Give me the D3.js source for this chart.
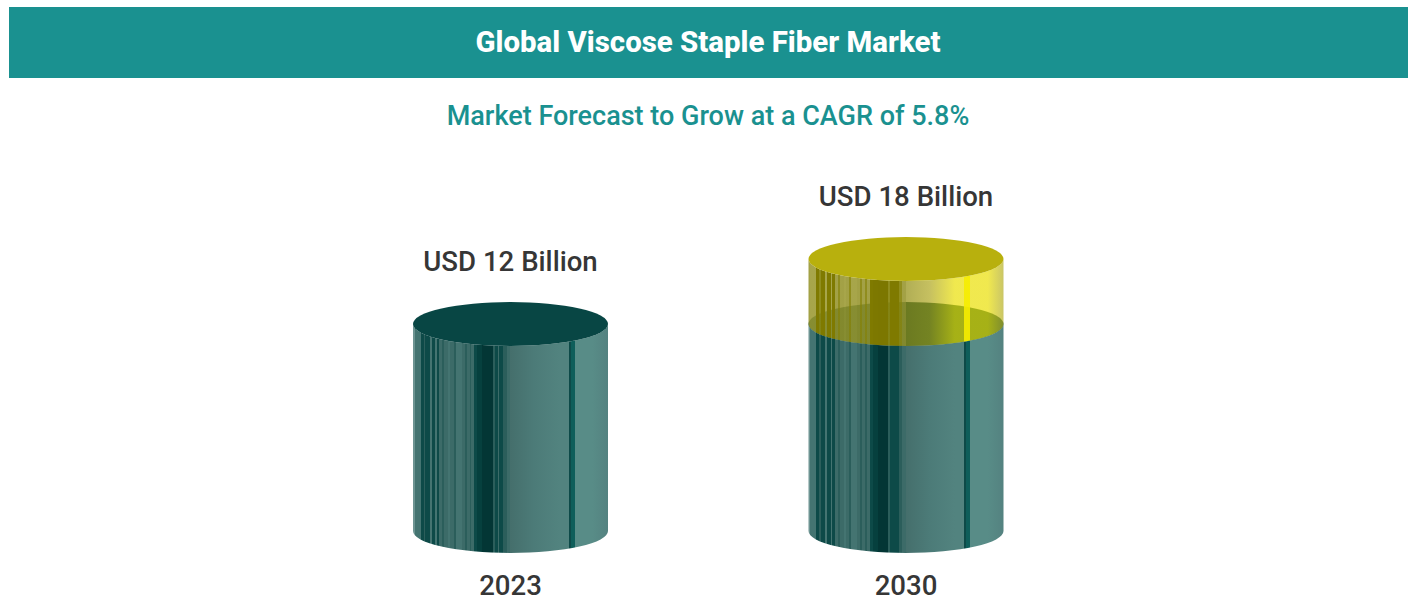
<!DOCTYPE html>
<html>
<head>
<meta charset="utf-8">
<title>Global Viscose Staple Fiber Market</title>
<script src="https://cdn.jsdelivr.net/npm/d3@7/dist/d3.min.js"></script>
<style>
  html, body { margin: 0; padding: 0; background: #fff; }
  svg { display: block; font-family: Roboto, sans-serif; }
</style>
</head>
<body>
<svg id="chart" width="1415" height="599"></svg>
<script>
const titleText = "Global Viscose Staple Fiber Market";
const subtitleText = "Market Forecast to Grow at a CAGR of 5.8%";
const years = ["2023", "2030"];
const marketValues = [12, 18];
const valueLabels = ["USD 12 Billion", "USD 18 Billion"];
const floorValue = -7.1;          // the drums stand on a truncated baseline

// Cylinder wall shading: [band end in %, tone]. Bands are hard-edged.
const wallBands = [
  [1, "light"], [4, "midAlt"], [5.5, "dark"], [6.2, "dim"], [8.7, "dark"], [9.6, "midAlt"], [11.3, "dark"],
  [12.2, "midAlt"], [13.5, "dark"],
  [15, "mid"], [16, "dim"], [18, "mid"], [19, "midAlt"], [21, "mid"], [22, "dim"], [25, "midAlt"],
  [26.5, "mid"], [27.5, "dim"], [29, "mid"], [30, "dim"], [31.5, "mid"], [33, "dark"],
  [35.5, "darker"], [41, "deep"], [42, "dim"], [43.6, "dark"], [44.1, "mid"], [46.2, "dark"],
  [48, "dim"], [50, "mid"]
];
// Smooth lit side of the wall: [offset in %, tone].
const wallRamp = [
  [50, "lit1"], [62, "lit2"], [75, "lit3"], [80, "lit3"], [80, "stripeEdge"], [81, "stripeEdge"],
  [81, "stripe"], [83, "stripe"], [83, "lit4"], [92, "lit4"], [100, "rim"]
];
const tealTones = {
  light: "#6d9492", dark: "#0d4a48", dim: "#2b5e5b", mid: "#3c6b68", midAlt: "#447471",
  darker: "#06403e", deep: "#033635", lit1: "#456f6c", lit2: "#4c7b78", lit3: "#52837f",
  lit4: "#588c87", stripeEdge: "#0d4a48", stripe: "#0e5e5a", rim: "#548280"
};
const goldTones = {
  light: "#95932a", dark: "#7f7a00", dim: "#8a8712", mid: "#95932a", midAlt: "#9a982f",
  darker: "#7d7800", deep: "#7c7700", lit1: "#928e13", lit2: "#a9a112", lit3: "#eadf03",
  lit4: "#eadf03", stripeEdge: "#f5ec00", stripe: "#f5ec00", rim: "#b3ad25"
};
// The growth segment is more see-through towards its lit side.
const goldAlpha = {
  light: 0.87, dark: 1, dim: 0.95, mid: 0.87, midAlt: 0.87, darker: 1, deep: 1,
  lit1: 0.72, lit2: 0.67, lit3: 0.7, lit4: 0.7, stripeEdge: 0.97, stripe: 0.97, rim: 0.7
};
const tealCap = "#084644";
const goldCap = "#b8b00d";
const bandColor = "#1a9190";
const labelColor = "#363636";

const svg = d3.select("#chart");

const x = d3.scalePoint().domain(years).range([510.5, 906]);
const y = d3.scaleLinear().domain([floorValue, marketValues[1]]).range([531, 259]);
const rx = 97.5, ry = 22;

function addGradient(id, tones, alphas) {
  const g = svg.append("defs").append("linearGradient").attr("id", id);
  const stops = [];
  let start = 0;
  wallBands.forEach(([end, tone]) => {
    stops.push([start, tone], [end, tone]);
    start = end;
  });
  wallRamp.forEach(s => stops.push(s));
  g.selectAll("stop").data(stops).join("stop")
    .attr("offset", d => d[0] + "%")
    .attr("stop-color", d => tones[d[1]])
    .attr("stop-opacity", d => alphas ? alphas[d[1]] : 1);
}
addGradient("tealWall", tealTones);
addGradient("goldWall", goldTones, goldAlpha);

// Side wall between two levels, closed along the near rim at the bottom.
const wallPath = (cx, top, bottom) =>
  `M${cx - rx},${top}L${cx - rx},${bottom}A${rx},${ry} 0 0 0 ${cx + rx},${bottom}` +
  `L${cx + rx},${top}A${rx},${ry} 0 0 1 ${cx - rx},${top}Z`;

const drums = svg.selectAll("g.drum")
  .data(years.map((year, i) => ({ year, value: marketValues[i], label: valueLabels[i] })))
  .join("g").attr("class", "drum");

// Base drum sized to the 2023 market in both years
drums.append("path")
  .attr("d", d => wallPath(x(d.year), y(marketValues[0]), y(floorValue)))
  .attr("fill", "url(#tealWall)");
drums.append("ellipse")
  .attr("cx", d => x(d.year)).attr("cy", y(marketValues[0]))
  .attr("rx", rx).attr("ry", ry)
  .attr("fill", tealCap);

// Translucent growth segment above the base drum
const growth = drums.filter(d => d.value > marketValues[0]);
growth.append("path")
  .attr("d", d => wallPath(x(d.year), y(d.value), y(marketValues[0])))
  .attr("fill", "url(#goldWall)");
growth.append("ellipse")
  .attr("cx", d => x(d.year)).attr("cy", d => y(d.value))
  .attr("rx", rx).attr("ry", ry)
  .attr("fill", goldCap);

// Value labels above the caps and years below the drums
drums.append("text")
  .attr("x", d => x(d.year)).attr("y", d => y(d.value) - 53)
  .attr("text-anchor", "middle")
  .attr("font-size", 27.6).attr("font-weight", 500)
  .attr("fill", labelColor)
  .text(d => d.label);
drums.append("text")
  .attr("x", d => x(d.year)).attr("y", 595)
  .attr("text-anchor", "middle")
  .attr("font-size", 27.6).attr("font-weight", 500)
  .attr("fill", labelColor)
  .text(d => d.year);

// Header band and subtitle
svg.append("rect")
  .attr("x", 9).attr("y", 7).attr("width", 1399).attr("height", 71)
  .attr("fill", bandColor);
svg.append("text")
  .attr("x", 708).attr("y", 52)
  .attr("text-anchor", "middle")
  .attr("font-size", 29.4).attr("font-weight", 800)
  .attr("fill", "#fff")
  .text(titleText);
svg.append("text")
  .attr("x", 708).attr("y", 125)
  .attr("text-anchor", "middle")
  .attr("font-size", 27).attr("font-weight", 500)
  .attr("fill", bandColor)
  .text(subtitleText);
</script>
</body>
</html>
